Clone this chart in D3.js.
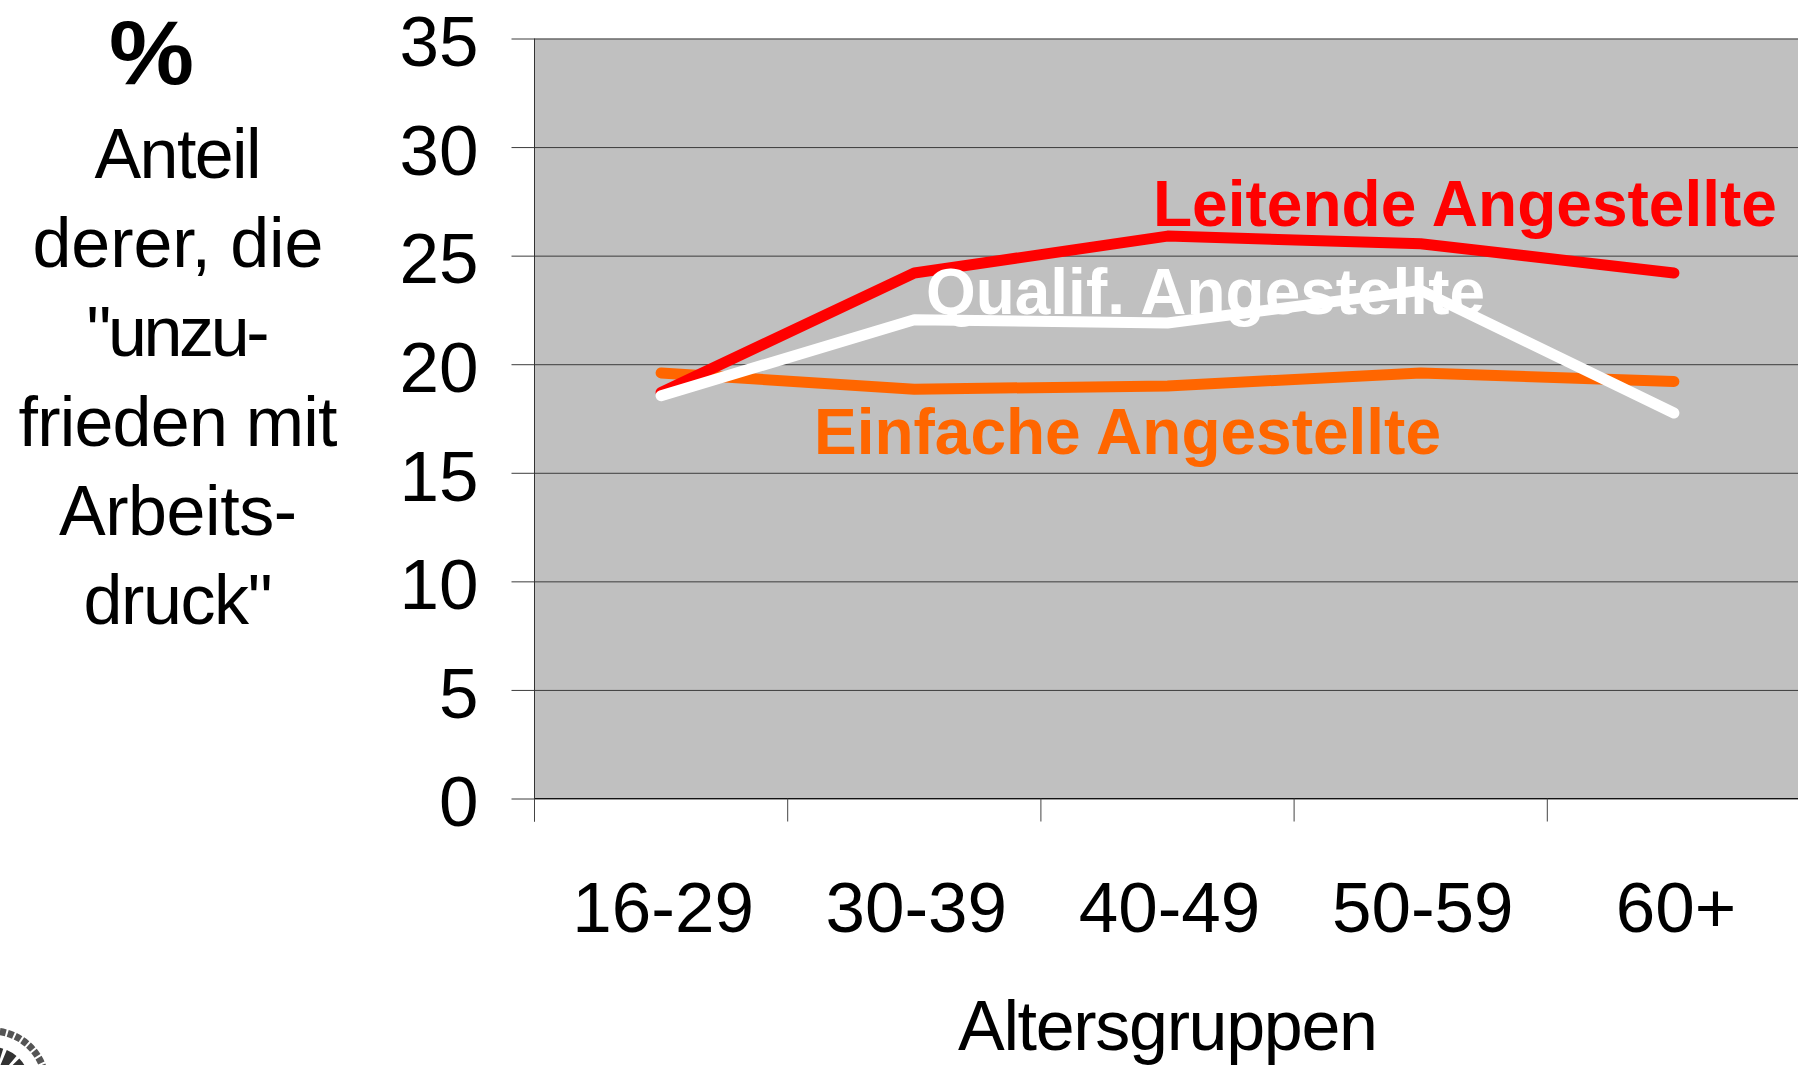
<!DOCTYPE html>
<html>
<head>
<meta charset="utf-8">
<script src="https://cdn.jsdelivr.net/npm/d3@7"></script>
<style>
  html, body { margin: 0; padding: 0; background: #fff; overflow: hidden; }
  svg { display: block; }
  text { font-family: "Liberation Sans", Arial, sans-serif; fill: #000; }
</style>
</head>
<body>
<svg width="1798" height="1065"></svg>
<script>
var ageGroups = ["16-29", "30-39", "40-49", "50-59", "60+"];
var leitende = [18.7, 24.2, 25.9, 25.55, 24.2];
var qualif = [18.55, 22.05, 21.9, 23.4, 17.75];
var einfache = [19.6, 18.85, 19.0, 19.6, 19.2];
var yTicks = [0, 5, 10, 15, 20, 25, 30, 35];
var sideLines = ["Anteil", "derer, die", "\"unzu-", "frieden mit", "Arbeits-", "druck\""];
var sideWidths = [167, 291, 183, 319, 238, 189];

var svg = d3.select("svg"),
    margin = {top: 38.5, left: 534.5, bottom: 266.5},
    width = +svg.attr("width") - margin.left,
    height = +svg.attr("height") - margin.top - margin.bottom;

var x = d3.scaleBand()
  .domain(ageGroups)
  .range([0, 1266]);

var y = d3.scaleLinear()
  .domain([0, 35])
  .range([height, 0]);

var line = d3.line()
  .x(function(d, i) { return x(ageGroups[i]) + x.bandwidth() / 2; })
  .y(function(d) { return y(d); });

var g = svg.append("g")
  .attr("transform", "translate(" + margin.left + "," + margin.top + ")");

g.append("rect")
  .attr("width", width)
  .attr("height", height)
  .attr("fill", "#c0c0c0");

// y axis, the ticks run across the plot as grid lines
var yAxis = g.append("g")
  .call(d3.axisLeft(y).tickValues(yTicks).tickSize(width).tickPadding(0));
yAxis.select(".domain").remove();
yAxis.selectAll(".tick line")
  .attr("x1", -23)
  .attr("x2", width)
  .attr("stroke", "#3c3c3c");
yAxis.selectAll(".tick text")
  .attr("x", -56)
  .attr("dy", "0.385em")
  .style("font-size", "71px");

g.append("line")
  .attr("y1", 0)
  .attr("y2", height + 23)
  .attr("stroke", "#333");

// x axis, tick marks sit on the band edges
var xAxis = g.append("g")
  .attr("transform", "translate(0," + height + ")")
  .call(d3.axisBottom(x).tickSize(0));
xAxis.select(".domain").attr("stroke", "#111").attr("d", "M0,0H" + width);
xAxis.selectAll(".tick text")
  .attr("x", 2)
  .attr("y", 133)
  .attr("dy", 0)
  .style("font-size", "71px");
xAxis.selectAll(".edge")
  .data(ageGroups)
  .enter().append("line")
    .attr("class", "edge")
    .attr("x1", function(d) { return x(d); })
    .attr("x2", function(d) { return x(d); })
    .attr("y2", 23)
    .attr("stroke", "#444");

var series = [
  {values: einfache, color: "#ff6600"},
  {values: leitende, color: "#ff0000"},
  {values: qualif, color: "#ffffff"}
];

g.selectAll(".line")
  .data(series)
  .enter().append("path")
    .attr("class", "line")
    .attr("d", function(d) { return line(d.values); })
    .attr("fill", "none")
    .attr("stroke", function(d) { return d.color; })
    .attr("stroke-width", 11)
    .attr("stroke-linecap", "round")
    .attr("stroke-linejoin", "bevel");

var seriesLabels = [
  {text: "Leitende Angestellte", x: 1153, y: 226, width: 624, color: "#ff0000"},
  {text: "Qualif. Angestellte", x: 926, y: 314, width: 559, color: "#ffffff"},
  {text: "Einfache Angestellte", x: 814, y: 454, width: 627, color: "#ff6600"}
];

svg.selectAll(".series-label")
  .data(seriesLabels)
  .enter().append("text")
    .attr("class", "series-label")
    .attr("x", function(d) { return d.x; })
    .attr("y", function(d) { return d.y; })
    .attr("textLength", function(d) { return d.width; })
    .attr("lengthAdjust", "spacingAndGlyphs")
    .style("font-size", "65px")
    .style("font-weight", "bold")
    .style("fill", function(d) { return d.color; })
    .text(function(d) { return d.text; });

svg.append("text")
  .attr("x", 109)
  .attr("y", 84)
  .attr("textLength", 85)
  .attr("lengthAdjust", "spacingAndGlyphs")
  .style("font-size", "90px")
  .style("font-weight", "bold")
  .text("%");

svg.selectAll(".side")
  .data(sideLines)
  .enter().append("text")
    .attr("class", "side")
    .attr("x", function(d, i) { return 178 - sideWidths[i] / 2; })
    .attr("y", function(d, i) { return 178 + i * 89.2; })
    .attr("textLength", function(d, i) { return sideWidths[i]; })
    .attr("lengthAdjust", "spacing")
    .style("font-size", "70px")
    .text(function(d) { return d; });

svg.append("text")
  .attr("x", 958)
  .attr("y", 1050)
  .attr("textLength", 420)
  .attr("lengthAdjust", "spacing")
  .style("font-size", "70px")
  .text("Altersgruppen");

// corner of the seal at the bottom left
var seal = svg.append("g").attr("transform", "translate(-8,1085)");
var ring = d3.path();
ring.arc(0, 0, 54, -Math.PI / 2, 0.1);
seal.append("path")
  .attr("d", ring.toString())
  .attr("fill", "none")
  .attr("stroke", "#555")
  .attr("stroke-width", 7)
  .attr("stroke-dasharray", "6 2");
var inner = d3.path();
inner.arc(0, 0, 30, -Math.PI / 2, 0);
seal.append("path")
  .attr("d", inner.toString())
  .attr("fill", "none")
  .attr("stroke", "#333")
  .attr("stroke-width", 16)
  .attr("stroke-dasharray", "9 3");
</script>
</body>
</html>
